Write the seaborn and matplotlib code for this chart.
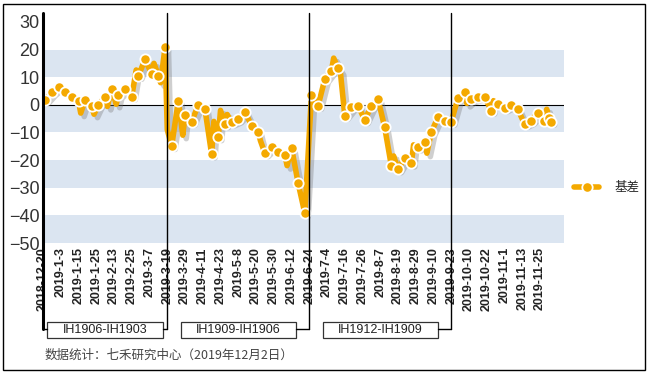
import matplotlib
matplotlib.use('Agg')
import numpy as np
import pandas as pd
import matplotlib.pyplot as plt
import matplotlib.patheffects as pe
from matplotlib.lines import Line2D
from matplotlib.patches import Rectangle
from matplotlib.transforms import blended_transform_factory
import seaborn as sns

# x tick labels, one every 8 trading days
tick_labels = ['2018-12-20', '2019-1-3', '2019-1-15', '2019-1-25', '2019-2-13',
               '2019-2-25', '2019-3-7', '2019-3-19', '2019-3-29', '2019-4-11',
               '2019-4-23', '2019-5-8', '2019-5-20', '2019-5-30', '2019-6-12',
               '2019-6-24', '2019-7-4', '2019-7-16', '2019-7-26', '2019-8-7',
               '2019-8-19', '2019-8-29', '2019-9-10', '2019-9-23', '2019-10-10',
               '2019-10-22', '2019-11-1', '2019-11-13', '2019-11-25']

# marked points (trading-day index, basis)
mark_day = [1, 4, 7, 10, 13, 16, 19, 22, 25, 28, 31, 34, 37, 40, 43, 46, 49, 52, 55,
            58, 61, 64, 67, 70, 73, 76, 79, 82, 85, 88, 91, 94, 97, 100, 103, 106,
            109, 112, 115, 118, 121, 124, 127, 130, 133, 136, 139, 142, 145, 148,
            151, 154, 157, 160, 163, 166, 169, 172, 175, 178, 181, 184, 187, 190,
            193, 196, 199, 202, 205, 208, 211, 214, 217, 220, 223, 226, 228, 229]
mark_val = [1.8, 4.5, 6.6, 4.8, 3.0, 1.4, 1.8, -0.6, 0.0, 3.0, 5.8, 3.6, 5.8, 3.0,
            10.5, 16.5, 11.1, 10.5, 20.8, -14.9, 1.5, -3.7, -6.1, 0.0, -1.6, -17.9,
            -11.7, -7.0, -6.3, -5.2, -2.5, -7.5, -9.9, -17.5, -15.1, -16.9, -18.1,
            -15.5, -28.4, -39.2, 3.6, -0.3, 9.3, 12.4, 13.2, -3.9, -0.9, -0.3, -5.5,
            -0.4, 2.0, -8.2, -22.1, -23.3, -19.3, -21.2, -15.4, -13.5, -9.9, -4.5,
            -5.8, -6.1, 2.4, 4.8, 2.0, 2.8, 3.0, -2.1, 0.3, -1.2, 0.0, -1.6, -6.9,
            -5.7, -2.8, -5.7, -4.6, -6.1]

# unmarked line vertices between markers
extra_day = [0, 17, 23, 29, 33, 42, 50, 53, 56, 63, 77, 80, 83, 98, 110, 131, 134,
             158, 167, 173, 191, 203, 227]
extra_val = [3.0, -3.0, -3.4, -0.6, 0.2, 12.6, 15.0, 8.0, -9.0, -11.0, -6.0, -2.0,
             -3.5, -13.0, -22.0, 16.9, 12.0, -18.5, -14.5, -17.5, 0.5, 1.5, -1.6]

roll_day = [0, 56, 120, 184]
spread_names = ['IH1906-IH1903', 'IH1909-IH1906', 'IH1912-IH1909']
band_low = [10, -10, -30, -50]

ORANGE = '#F4A900'
BAND = '#DBE5F1'

sns.set_theme(style='white')
plt.rcParams['font.family'] = ['Liberation Sans', 'Noto Sans CJK SC']

marks = pd.DataFrame({'day': mark_day, 'basis': mark_val})
line = pd.concat([marks, pd.DataFrame({'day': extra_day, 'basis': extra_val})])
line = line.sort_values('day').reset_index(drop=True)

W, H = 649, 374
fig = plt.figure(figsize=(W / 100, H / 100), dpi=100)
ax = fig.add_axes([43 / W, (H - 243) / H, (564 - 43) / W, (243 - 15) / H])

for lo in band_low:
    ax.axhspan(lo, lo + 10, color=BAND, lw=0, zorder=0)
ax.axhline(0, color='black', lw=0.8, zorder=1)

sns.lineplot(data=line, x='day', y='basis', color=ORANGE, lw=4, estimator=None,
             ax=ax, zorder=3)
ax.lines[-1].set_path_effects([
    pe.SimpleLineShadow(offset=(2.5, -2.5), shadow_color='#777777', alpha=0.35),
    pe.Normal()])
sns.scatterplot(data=marks, x='day', y='basis', color=ORANGE, s=55,
                edgecolor='white', linewidth=1.3, ax=ax, zorder=4)

ax.set_xlim(0, 234.8)
ax.set_ylim(-50, 32.5)
ax.set_yticks(range(-50, 31, 10))
ax.tick_params(axis='y', length=0, pad=2.5, labelsize=13, labelcolor='#333333')
ax.set_xticks(np.arange(len(tick_labels)) * 8)
ax.set_xticklabels(tick_labels, rotation=90, fontweight='bold', fontsize=9,
                   color='#222222')
ax.tick_params(axis='x', length=0, pad=3)
ax.set_xlabel('')
ax.set_ylabel('')
for s in ax.spines.values():
    s.set_visible(False)

# contract roll separators with labelled brackets
trans = blended_transform_factory(ax.transData, fig.transFigure)
y_top = (H - 13) / H
y_br = (H - 329) / H
box_lo = (H - 338) / H
box_hi = (H - 322) / H
for i, d in enumerate(roll_day):
    ax.add_line(Line2D([d, d], [y_br, y_top], transform=trans, color='black',
                       lw=2.2 if i == 0 else 1.0, clip_on=False, zorder=5))
box_w = 52
for i, name in enumerate(spread_names):
    a, b = roll_day[i], roll_day[i + 1]
    c = (a + b) / 2
    ax.add_patch(Rectangle((c - box_w / 2, box_lo), box_w, box_hi - box_lo,
                           transform=trans, facecolor='white', edgecolor='#333333',
                           lw=0.9, clip_on=False))
    ax.text(c, (box_lo + box_hi) / 2, name, transform=trans, ha='center',
            va='center', fontsize=9, color='#222222')
    ax.add_line(Line2D([c + box_w / 2, b], [y_br, y_br], transform=trans,
                       color='black', lw=1.0, clip_on=False))
    if i == 0:
        ax.add_line(Line2D([a, c - box_w / 2], [y_br, y_br], transform=trans,
                           color='black', lw=1.0, clip_on=False))

handle = Line2D([], [], color=ORANGE, lw=4, marker='o', ms=7.5, mfc=ORANGE,
                mec='white', mew=1.3)
fig.legend(handles=[handle], labels=['基差'], loc='center left',
           bbox_to_anchor=(568 / W, (H - 188) / H), frameon=False,
           prop={'family': ['Noto Sans CJK SC'], 'size': 9},
           handlelength=2.0, handletextpad=1.2, borderpad=0)

fig.text(45 / W, (H - 355) / H, '数据统计：七禾研究中心（2019年12月2日）',
         fontsize=9, family=['Noto Sans CJK SC'], color='#444444', va='center')

fig.add_artist(Rectangle((3 / W, 4 / H), 642 / W, 366 / H, transform=fig.transFigure,
                         fill=False, ec='black', lw=1))

fig.savefig('out.png', dpi=100)
